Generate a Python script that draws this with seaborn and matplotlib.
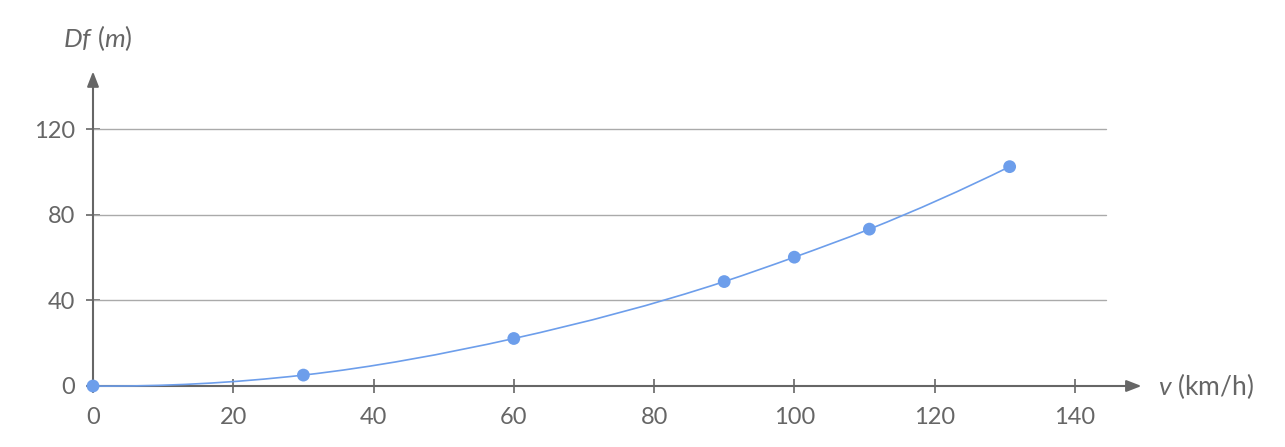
import numpy as np
import pandas as pd
import seaborn as sns
import matplotlib
matplotlib.use('Agg')
import matplotlib.pyplot as plt
from matplotlib.path import Path
from matplotlib.patches import PathPatch

# data
speed = [0, 30, 60, 90, 100, 110.7, 130.7]
dist = [0, 5.1, 22.2, 48.8, 60.2, 73.3, 102.5]
x_ticks = [0, 20, 40, 60, 80, 100, 120, 140]
y_ticks = [0, 40, 80, 120]

blue = '#6d9eeb'
axis_grey = '#666666'
grid_grey = '#aaaaaa'

sns.set_style('white')
plt.rcParams['font.family'] = ['Lato', 'DejaVu Sans']
plt.rcParams['mathtext.fontset'] = 'custom'
plt.rcParams['mathtext.it'] = 'Lato:italic'
plt.rcParams['mathtext.rm'] = 'Lato'

fig = plt.figure(figsize=(12.85, 4.47), dpi=100)
ax = fig.add_axes([93 / 1285, 61 / 447, 1052 / 1285, 321 / 447])
ax.set_xlim(0, 150)
ax.set_ylim(0, 150)
for s in ax.spines.values():
    s.set_visible(False)

# gridlines
for yv in y_ticks[1:]:
    ax.plot([0, 144.4], [yv, yv], color=grid_grey, lw=1, zorder=1)

# axes with arrows
ax.annotate('', xy=(149.5, 0), xytext=(0, 0),
            arrowprops=dict(arrowstyle='-|>,head_length=0.9,head_width=0.35',
                            color=axis_grey, lw=1.5, shrinkA=0, shrinkB=0),
            annotation_clip=False, zorder=2)
ax.annotate('', xy=(0, 147), xytext=(0, 0),
            arrowprops=dict(arrowstyle='-|>,head_length=0.9,head_width=0.35',
                            color=axis_grey, lw=1.5, shrinkA=0, shrinkB=0),
            annotation_clip=False, zorder=2)

ax.set_xticks(x_ticks)
ax.set_yticks(y_ticks)
ax.tick_params(axis='both', direction='inout', length=10, width=1.2,
               color=axis_grey, labelcolor=axis_grey, labelsize=17,
               bottom=True, left=True)
ax.tick_params(axis='x', pad=10)
ax.tick_params(axis='y', pad=8)

# smooth curve through the points (cubic hermite -> bezier segments)
x = np.array(speed, dtype=float)
y = np.array(dist, dtype=float)
h = np.diff(x)
d = np.diff(y) / h
m = np.zeros_like(x)
m[0] = d[0] - h[0] * (d[1] - d[0]) / (h[0] + h[1])
m[-1] = d[-1] + h[-1] * (d[-1] - d[-2]) / (h[-2] + h[-1])
for i in range(1, len(x) - 1):
    m[i] = (h[i] * d[i - 1] + h[i - 1] * d[i]) / (h[i - 1] + h[i])
verts = [(x[0], y[0])]
codes = [Path.MOVETO]
for i in range(len(x) - 1):
    verts += [(x[i] + h[i] / 3, y[i] + m[i] * h[i] / 3),
              (x[i + 1] - h[i] / 3, y[i + 1] - m[i + 1] * h[i] / 3),
              (x[i + 1], y[i + 1])]
    codes += [Path.CURVE4] * 3
ax.add_patch(PathPatch(Path(verts, codes), facecolor='none', edgecolor=blue,
                       lw=1.2, zorder=3, clip_on=False))

df = pd.DataFrame({'v': speed, 'Df': dist})
sns.scatterplot(data=df, x='v', y='Df', color=blue, s=85, edgecolor='none',
                zorder=4, clip_on=False, ax=ax)
ax.set_xlabel('')
ax.set_ylabel('')

fig.text(98 / 1285, 1 - 38 / 447, r'$\mathit{Df}\ (\mathit{m})$', ha='center', va='center',
         fontsize=19, color=axis_grey)
fig.text(1158 / 1285, 1 - 386 / 447, r'$\mathit{v}$ (km/h)', ha='left', va='center',
         fontsize=19, color=axis_grey)

fig.savefig('out.png', dpi=100)
